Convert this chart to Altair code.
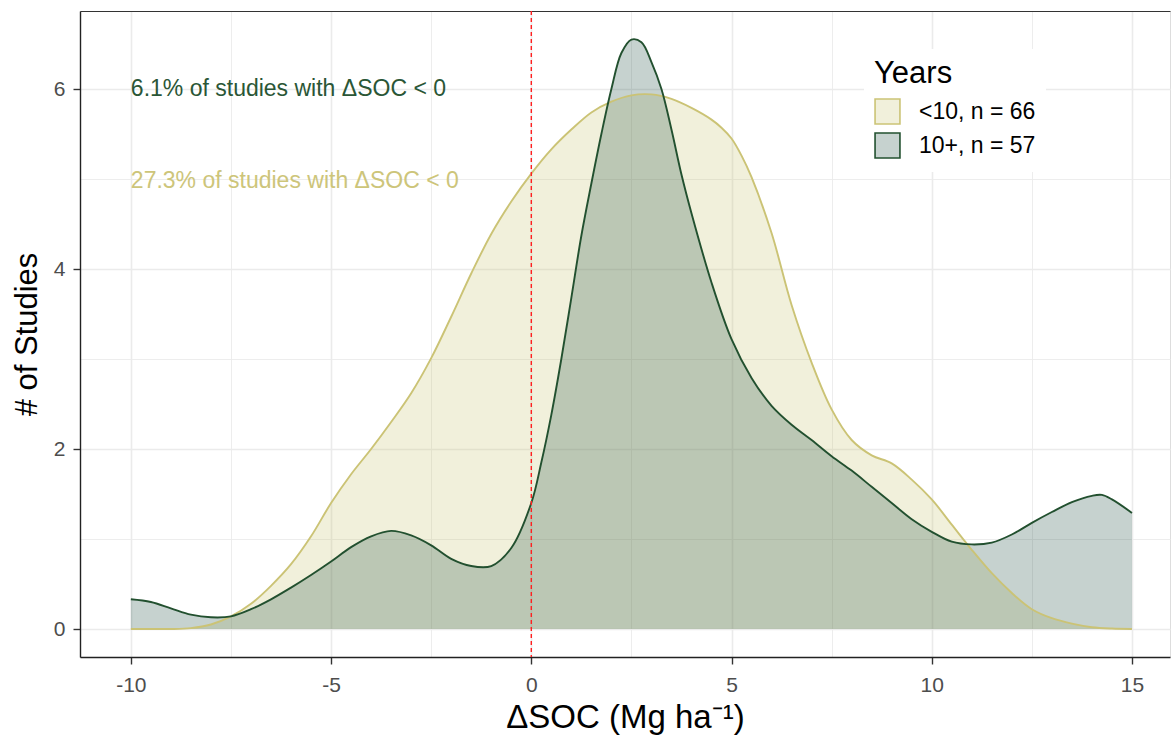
import altair as alt
import pandas as pd

# ---- data ----
GREEN_X = [-10, -9.5, -9, -8.5, -8, -7.5, -7, -6.5, -6, -5.5, -5, -4.5, -4, -3.5, -3, -2.5, -2, -1.5, -1, -0.5, 0,
           0.25, 0.5, 0.75, 1, 1.25, 1.5, 1.75, 2, 2.25, 2.5, 2.75, 3, 3.25, 3.5, 3.75, 4,
           4.5, 5, 5.5, 6, 6.5, 7, 7.5, 8, 8.5, 9, 9.5, 10, 10.5, 11, 11.5, 12, 12.5, 13, 13.5, 14,
           14.25, 14.5, 15]
GREEN_Y = [0.33, 0.30, 0.23, 0.16, 0.13, 0.14, 0.22, 0.33, 0.46, 0.60, 0.75, 0.91, 1.03, 1.09, 1.04, 0.93, 0.78, 0.70, 0.70, 0.90, 1.40,
           1.85, 2.38, 3.0, 3.68, 4.37, 4.95, 5.5, 6.0, 6.40, 6.55, 6.52, 6.3, 6.0, 5.55, 5.05, 4.62,
           3.85, 3.22, 2.79, 2.48, 2.27, 2.1, 1.92, 1.76, 1.58, 1.40, 1.22, 1.08, 0.97, 0.94, 0.96, 1.05, 1.18, 1.30, 1.41, 1.48,
           1.49, 1.44, 1.29]
YELLOW_X = [-10, -9.5, -9, -8.5, -8, -7.5, -7, -6.5, -6, -5.5, -5, -4.5, -4, -3.5, -3, -2.5, -2, -1.5, -1, -0.5, 0,
            0.5, 1, 1.5, 2, 2.5, 3, 3.5, 4, 4.5, 4.75, 5, 5.25, 5.5, 6, 6.5, 7, 7.5, 8, 8.5, 9, 9.5, 10,
            10.5, 11, 11.5, 12, 12.5, 13, 13.5, 14, 14.5, 15]
YELLOW_Y = [0, 0, 0, 0.01, 0.05, 0.14, 0.28, 0.48, 0.72, 1.03, 1.40, 1.72, 2.0, 2.30, 2.62, 3.01, 3.47, 3.95, 4.39, 4.75, 5.06,
            5.33, 5.55, 5.74, 5.86, 5.93, 5.94, 5.89, 5.79, 5.66, 5.57, 5.45, 5.26, 5.02, 4.40, 3.60, 2.96, 2.44, 2.10, 1.93, 1.84, 1.66, 1.44,
            1.16, 0.88, 0.62, 0.40, 0.22, 0.12, 0.06, 0.02, 0.005, 0]

GROUPS = ["<10, n = 66", "10+, n = 57"]
ANNOT_TEXT = ["6.1% of studies with \u0394SOC < 0", "27.3% of studies with \u0394SOC < 0"]
ANNOT_X = [-10, -10]
ANNOT_Y = [6.0, 4.98]
X_TICKS = [-10, -7.5, -5, -2.5, 0, 2.5, 5, 7.5, 10, 12.5, 15]
Y_TICKS = [0, 1, 2, 3, 4, 5, 6]

# styles
FILL_RANGE = ["rgba(201,194,110,0.25)", "rgba(27,77,62,0.25)"]
LINE_RANGE = ["#cbc375", "#22502f"]
ANNOT_COLORS = ["#2a5636", "#cdc57a"]
FONT = "Liberation Sans"

dens = pd.concat([
    pd.DataFrame({"x": YELLOW_X, "y": YELLOW_Y, "Years": GROUPS[0]}),
    pd.DataFrame({"x": GREEN_X, "y": GREEN_Y, "Years": GROUPS[1]}),
], ignore_index=True)
dens["grp"] = dens["Years"]
annot = pd.DataFrame({"x": ANNOT_X, "y": ANNOT_Y, "label": ANNOT_TEXT})

xscale = alt.Scale(domain=[-11.27, 15.95], nice=False, zero=False)
yscale = alt.Scale(domain=[-0.311, 6.867], nice=False, zero=False)

major_x = "datum.value % 5 === 0"
major_y = "datum.value % 2 === 0"

xaxis = alt.Axis(
    values=X_TICKS, title="\u0394SOC (Mg ha\u207b\u00b9)",
    labelExpr=f"{major_x} ? '' + datum.value : ''",
    tickOpacity={"condition": {"test": major_x, "value": 1}, "value": 0},
    gridWidth={"condition": {"test": major_x, "value": 1.6}, "value": 0.9},
    gridColor="#ebebeb", domainColor="#222222", domainWidth=1.4,
    tickColor="#333333", tickWidth=1.4, tickSize=7, labelPadding=10,
    labelFontSize=21, labelColor="#4d4d4d", labelFont=FONT,
    titleFontSize=33, titleFont=FONT, titleFontWeight="normal", titleColor="black", titlePadding=6,
)
yaxis = alt.Axis(
    values=Y_TICKS, title="# of Studies",
    labelExpr=f"{major_y} ? '' + datum.value : ''",
    tickOpacity={"condition": {"test": major_y, "value": 1}, "value": 0},
    gridWidth={"condition": {"test": major_y, "value": 1.6}, "value": 0.9},
    gridColor="#ebebeb", domainColor="#222222", domainWidth=1.4,
    tickColor="#333333", tickWidth=1.4, tickSize=7, labelPadding=8,
    labelFontSize=21, labelColor="#4d4d4d", labelFont=FONT,
    titleFontSize=31, titleFont=FONT, titleFontWeight="normal", titleColor="black", titlePadding=10,
)

INTERP = "catmull-rom"
base = alt.Chart(dens)

area = base.mark_area(interpolate=INTERP).encode(
    x=alt.X("x:Q", scale=xscale, axis=xaxis),
    y=alt.Y("y:Q", scale=yscale, axis=yaxis, stack=None),
    fill=alt.Fill("Years:N", sort=GROUPS,
                  scale=alt.Scale(domain=GROUPS, range=FILL_RANGE),
                  legend=alt.Legend(
                      title="Years", orient="none", legendX=784, legendY=38,
                      fillColor="white", padding=10,
                      titleFontSize=31, titleFont=FONT, titleFontWeight="normal", titleColor="black",
                      titlePadding=8,
                      labelFontSize=23, labelFont=FONT, labelColor="black", labelOffset=18,
                      symbolType="square", symbolSize=620, symbolStrokeColor="black",
                      symbolStrokeWidth=1.6, rowPadding=1,
                  )),
)

line = base.mark_line(interpolate=INTERP, strokeWidth=1.9).encode(
    x=alt.X("x:Q", scale=xscale, axis=None),
    y=alt.Y("y:Q", scale=yscale, axis=yaxis),
    stroke=alt.Stroke("grp:N", sort=GROUPS,
                      scale=alt.Scale(domain=GROUPS, range=LINE_RANGE), legend=None),
)

rule = alt.Chart(pd.DataFrame({"v": [0]})).mark_rule(
    color="#ff2020", strokeDash=[4, 3], strokeWidth=1.4
).encode(
    x=alt.X("v:Q", scale=xscale,
            axis=alt.Axis(orient="top", labels=False, ticks=False, grid=False, title=None,
                          domainColor="#333333", domainWidth=1.2)),
)

text1 = alt.Chart(annot.iloc[[0]]).mark_text(
    align="left", baseline="middle", fontSize=23, font=FONT, color=ANNOT_COLORS[0]
).encode(x=alt.X("x:Q", scale=xscale, axis=None), y=alt.Y("y:Q", scale=yscale, axis=yaxis), text="label:N")
text2 = alt.Chart(annot.iloc[[1]]).mark_text(
    align="left", baseline="middle", fontSize=23, font=FONT, color=ANNOT_COLORS[1]
).encode(x=alt.X("x:Q", scale=xscale, axis=None), y=alt.Y("y:Q", scale=yscale, axis=yaxis), text="label:N")

chart = alt.layer(area, line, text1, text2, rule).resolve_axis(x="independent").properties(
    width=1090, height=646,
    autosize=alt.AutoSizeParams(type="none"),
    padding={"left": 80, "top": 11, "right": 1, "bottom": 91},
).configure_view(stroke=None).configure(background="white")

chart.save("out.html", embed_options={"renderer": "svg", "actions": False})
